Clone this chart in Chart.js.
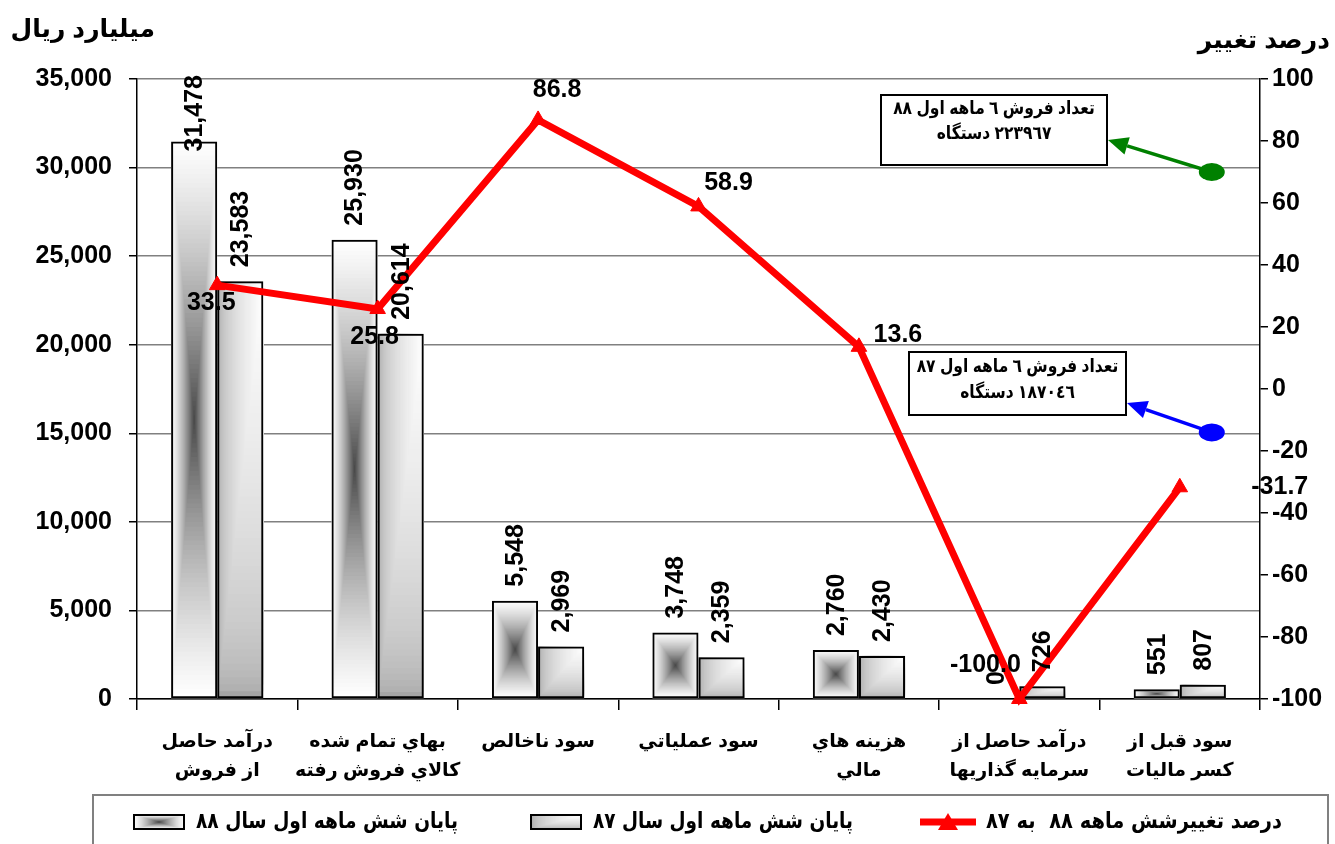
<!DOCTYPE html>
<html>
<head>
<meta charset="utf-8">
<script src="https://cdn.jsdelivr.net/npm/chart.js@4/dist/chart.umd.min.js"></script>
<style>
html,body{margin:0;padding:0;background:#fff;}
#wrap{position:relative;width:1335px;height:844px;}
</style>
</head>
<body>
<div id="wrap"><canvas id="c" width="1335" height="844"></canvas></div>
<script>
// ---- data ----
const categories = [
  ['درآمد حاصل', 'از فروش'],
  ['بهاي تمام شده', 'كالاي فروش رفته'],
  ['سود ناخالص'],
  ['سود عملياتي'],
  ['هزينه هاي', 'مالي'],
  ['درآمد حاصل از', 'سرمايه گذاريها'],
  ['سود قبل از', 'كسر ماليات']
];
const series88 = [31478, 25930, 5548, 3748, 2760, 0, 551];
const series87 = [23583, 20614, 2969, 2359, 2430, 726, 807];
const pctChange = [33.5, 25.8, 86.8, 58.9, 13.6, -100.0, -31.7];
const seriesNames = ['پایان شش ماهه اول سال ٨٨', 'پایان شش ماهه اول سال ٨٧', 'درصد تغییرشش ماهه ٨٨  به ٨٧'];
const leftTitle = 'میلیارد ریال';
const rightTitle = 'درصد تغییر';
const note88 = ['تعداد فروش ٦ ماهه اول ٨٨', '٢٢٣٩٦٧ دستگاه'];
const note87 = ['تعداد فروش ٦ ماهه اول ٨٧', '١٨٧٠٤٦ دستگاه'];
const noteDotValues = [70, -14]; // right-axis values of the two note markers

const FONT = '"Liberation Sans", Arial, "DejaVu Sans", sans-serif';

function rectGradient(ctx, x, y, w, h, ax, ay, c0, c1, steps, ease) {
  for (let i = 0; i < steps; i++) {
    const t = i / steps;
    const s = 1 - t;
    const rw = w * s, rh = h * s;
    const rx = x + (w - rw) * ax, ry = y + (h - rh) * ay;
    const e = ease ? ease(t) : t;
    const r = Math.round(c0[0] + (c1[0] - c0[0]) * e);
    const g = Math.round(c0[1] + (c1[1] - c0[1]) * e);
    const b = Math.round(c0[2] + (c1[2] - c0[2]) * e);
    ctx.fillStyle = `rgb(${r},${g},${b})`;
    ctx.fillRect(rx, ry, rw, rh);
  }
}
function fill88(ctx, x, y, w, h) {
  rectGradient(ctx, x, y, w, h, 0.5, 0.5, [255,255,255], [70,70,70], 60, t => t * t * 0.4 + t * 0.6);
}
function fill87(ctx, x, y, w, h) {
  rectGradient(ctx, x, y, w, h, 1, 0, [165,165,165], [255,255,255], 60, t => Math.sqrt(t));
}

function fitText(ctx, text, xRight, y, width, font) {
  ctx.save();
  ctx.font = font;
  ctx.direction = 'rtl';
  const w = ctx.measureText(text).width;
  const sx = width / w;
  ctx.translate(xRight, y);
  ctx.scale(sx, 1.1);
  ctx.textAlign = 'right';
  ctx.textBaseline = 'middle';
  ctx.fillStyle = '#000';
  ctx.fillText(text, 0, 0);
  ctx.restore();
}

const barFillPlugin = {
  id: 'barFill',
  beforeDatasetsDraw(chart) {
    const ctx = chart.ctx;
    [0, 1].forEach(di => {
      const meta = chart.getDatasetMeta(di);
      meta.data.forEach(el => {
        const p = el.getProps(['x', 'y', 'base', 'width'], true);
        const x = p.x - p.width / 2, top = Math.min(p.y, p.base), h = Math.abs(p.base - p.y);
        if (h < 0.5) return;
        ctx.save();
        if (di === 0) fill88(ctx, x, top, p.width, h); else fill87(ctx, x, top, p.width, h);
        ctx.restore();
      });
    });
  }
};

const labelOffsets = [
  {dx: -6, dy: 18}, {dx: -3, dy: 28}, {dx: 19, dy: -30}, {dx: 30, dy: -23},
  {dx: 39, dy: -12}, {dx: -34, dy: -34}, {dx: 100, dy: 0}
];

const labelsPlugin = {
  id: 'labels',
  afterDatasetsDraw(chart) {
    const ctx = chart.ctx;
    const area = chart.chartArea;
    ctx.save();
    ctx.fillStyle = '#000';
    ctx.font = 'bold 25px ' + FONT;
    [0, 1].forEach(di => {
      const meta = chart.getDatasetMeta(di);
      const vals = chart.data.datasets[di].data;
      meta.data.forEach((el, i) => {
        const txt = vals[i].toLocaleString('en-US');
        const w = ctx.measureText(txt).width;
        let start = el.y - 14;
        if (start - w < area.top - 4) start = area.top - 4 + w;
        ctx.save();
        ctx.translate(el.x + 1, start);
        ctx.rotate(-Math.PI / 2);
        ctx.textAlign = 'left';
        ctx.textBaseline = 'middle';
        ctx.fillText(txt, 0, 0);
        ctx.restore();
      });
    });
    ctx.restore();
  },
  afterDraw(chart) {
    const ctx = chart.ctx;
    const meta = chart.getDatasetMeta(2);
    ctx.save();
    ctx.fillStyle = '#000';
    ctx.font = 'bold 25px ' + FONT;
    ctx.textAlign = 'center';
    ctx.textBaseline = 'middle';
    meta.data.forEach((el, i) => {
      const o = labelOffsets[i];
      ctx.fillText(pctChange[i].toFixed(1), el.x + o.dx, el.y + o.dy);
    });
    ctx.restore();

    // axis titles
    ctx.save();
    ctx.fillStyle = '#000';
    ctx.font = 'bold 25px ' + FONT;
    ctx.direction = 'rtl';
    ctx.textAlign = 'right';
    ctx.textBaseline = 'middle';
    ctx.fillText(leftTitle, 155, 30);
    ctx.fillText(rightTitle, 1330, 41);
    ctx.restore();

    // notes
    const x = chart.scales.x, y1 = chart.scales.y1;
    const dotX = x.getPixelForValue(6) + 32;
    const notes = [
      {lines: note88, box: [881, 95, 226, 70], color: '#008000', v: noteDotValues[0], tip: [1108, 140], ly: [109, 134]},
      {lines: note87, box: [909, 352, 217, 63], color: '#0000ff', v: noteDotValues[1], tip: [1127, 403], ly: [367, 393]}
    ];
    notes.forEach(n => {
      ctx.save();
      ctx.fillStyle = '#fff';
      ctx.fillRect(n.box[0], n.box[1], n.box[2], n.box[3]);
      ctx.strokeStyle = '#000';
      ctx.lineWidth = 2;
      ctx.strokeRect(n.box[0], n.box[1], n.box[2], n.box[3]);
      ctx.fillStyle = '#000';
      ctx.font = 'bold 16px ' + FONT;
      ctx.direction = 'rtl';
      ctx.textAlign = 'center';
      ctx.textBaseline = 'middle';
      const cx = n.box[0] + n.box[2] / 2;
      n.lines.forEach((line, k) => {
        ctx.save();
        ctx.translate(cx, n.ly[k]);
        ctx.scale(0.97, 1.15);
        ctx.fillText(line, 0, 0);
        ctx.restore();
      });
      const dy = y1.getPixelForValue(n.v);
      ctx.fillStyle = n.color;
      ctx.beginPath();
      ctx.ellipse(dotX, dy, 13, 9, 0, 0, Math.PI * 2);
      ctx.fill();
      const tx = n.tip[0], ty = n.tip[1];
      const ang = Math.atan2(ty - dy, tx - dotX);
      const hl = 20, hw = 9;
      const bx = tx - Math.cos(ang) * hl, by = ty - Math.sin(ang) * hl;
      ctx.strokeStyle = n.color;
      ctx.lineWidth = 3.5;
      ctx.beginPath();
      ctx.moveTo(dotX, dy);
      ctx.lineTo(bx, by);
      ctx.stroke();
      ctx.beginPath();
      ctx.moveTo(tx, ty);
      ctx.lineTo(bx + Math.sin(ang) * hw, by - Math.cos(ang) * hw);
      ctx.lineTo(bx - Math.sin(ang) * hw, by + Math.cos(ang) * hw);
      ctx.closePath();
      ctx.fill();
      ctx.restore();
    });

    // legend
    ctx.save();
    ctx.strokeStyle = '#808080';
    ctx.lineWidth = 2;
    ctx.strokeRect(93, 795, 1235, 60);
    const ly = 822;
    ctx.save();
    fill88(ctx, 134, 815, 50, 14);
    ctx.restore();
    ctx.strokeStyle = '#000';
    ctx.lineWidth = 2;
    ctx.strokeRect(134, 815, 50, 14);
    fitText(ctx, seriesNames[0], 458, ly, 262, 'bold 20px "DejaVu Sans", sans-serif');
    ctx.save();
    fill87(ctx, 531, 815, 50, 14);
    ctx.restore();
    ctx.strokeStyle = '#000';
    ctx.lineWidth = 2;
    ctx.strokeRect(531, 815, 50, 14);
    fitText(ctx, seriesNames[1], 853, ly, 260, 'bold 20px "DejaVu Sans", sans-serif');
    ctx.strokeStyle = '#ff0000';
    ctx.lineWidth = 7;
    ctx.beginPath();
    ctx.moveTo(920, ly);
    ctx.lineTo(976, ly);
    ctx.stroke();
    ctx.fillStyle = '#ff0000';
    ctx.beginPath();
    ctx.moveTo(948, ly - 9);
    ctx.lineTo(958, ly + 8);
    ctx.lineTo(938, ly + 8);
    ctx.closePath();
    ctx.fill();
    fitText(ctx, seriesNames[2], 1282, ly, 296, 'bold 20px "DejaVu Sans", sans-serif');
    ctx.restore();
  }
};

new Chart(document.getElementById('c'), {
  type: 'bar',
  data: {
    labels: categories,
    datasets: [
      {label: seriesNames[0], data: series88, yAxisID: 'y', backgroundColor: 'rgba(0,0,0,0)', borderColor: '#000', borderWidth: 2, borderSkipped: false, order: 2},
      {label: seriesNames[1], data: series87, yAxisID: 'y', backgroundColor: 'rgba(0,0,0,0)', borderColor: '#000', borderWidth: 2, borderSkipped: false, order: 2},
      {type: 'line', label: seriesNames[2], data: pctChange, yAxisID: 'y1', borderColor: '#ff0000', borderWidth: 7, pointStyle: 'triangle', pointRadius: 9, pointBackgroundColor: '#ff0000', pointBorderColor: '#ff0000', pointBorderWidth: 1, tension: 0, clip: false, order: 0}
    ]
  },
  options: {
    responsive: false,
    animation: false,
    devicePixelRatio: 1,
    layout: {padding: {top: 79, left: 0, right: 0, bottom: 0}},
    datasets: {bar: {categoryPercentage: 0.575, barPercentage: 1.0}},
    plugins: {legend: {display: false}, tooltip: {enabled: false}},
    scales: {
      x: {
        grid: {drawOnChartArea: false, drawTicks: true, tickLength: 11, color: '#000', lineWidth: 1.5},
        border: {color: '#000', width: 1.5},
        ticks: {color: '#000', font: {family: FONT, size: 19, weight: 'bold', lineHeight: 1.55}, maxRotation: 0, minRotation: 0, autoSkip: false, padding: 17},
        afterFit: s => { s.height = 145; }
      },
      y: {
        position: 'left', min: 0, max: 35000,
        ticks: {stepSize: 5000, color: '#000', font: {family: FONT, size: 25, weight: 'bold'}, padding: 17, callback: v => v.toLocaleString('en-US')},
        grid: {color: '#808080', lineWidth: 1.5, tickLength: 8, tickColor: '#000', tickWidth: 1.5},
        border: {color: '#000', width: 1.5},
        afterFit: s => { s.width = 137; }
      },
      y1: {
        position: 'right', min: -100, max: 100,
        ticks: {stepSize: 20, color: '#000', font: {family: FONT, size: 25, weight: 'bold'}, padding: 4},
        grid: {drawOnChartArea: false, tickLength: 8, color: '#000', lineWidth: 1.5},
        border: {color: '#000', width: 1.5},
        afterFit: s => { s.width = 75; }
      }
    }
  },
  plugins: [barFillPlugin, labelsPlugin]
});
</script>
</body>
</html>
